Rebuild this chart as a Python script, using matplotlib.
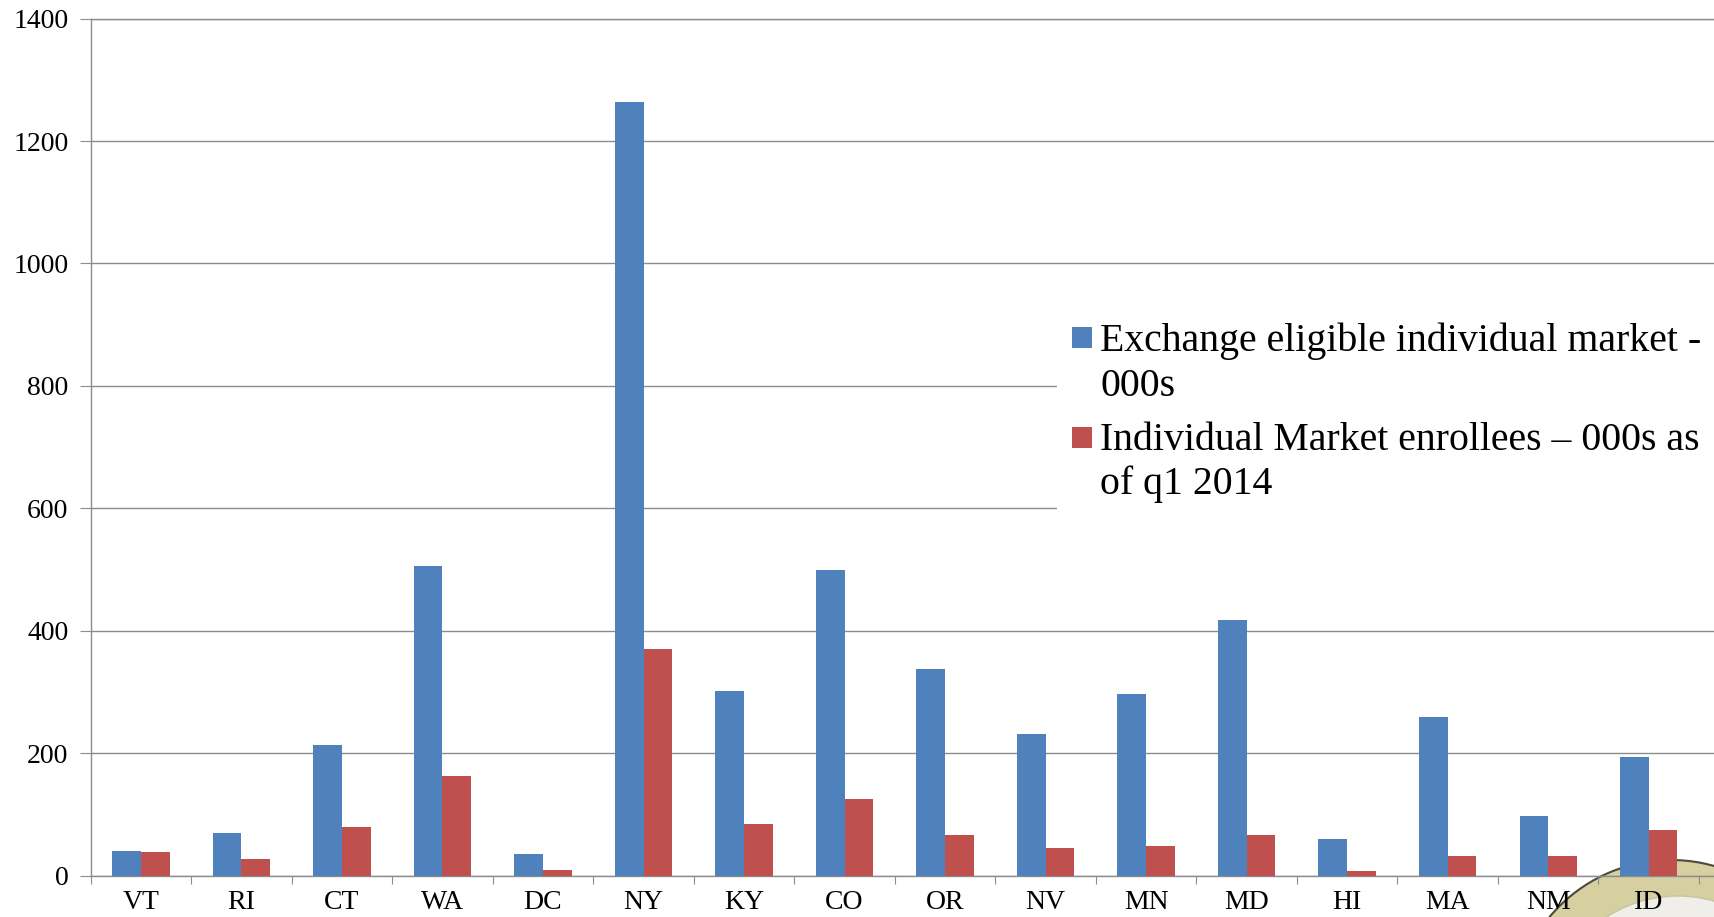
import matplotlib
matplotlib.use("Agg")
import matplotlib.pyplot as plt
import numpy as np
from matplotlib.patches import Rectangle, Ellipse

states = ['VT', 'RI', 'CT', 'WA', 'DC', 'NY', 'KY', 'CO', 'OR', 'NV', 'MN', 'MD', 'HI', 'MA', 'NM', 'ID']
eligible = [41, 70, 214, 505, 36, 1264, 302, 500, 337, 232, 296, 418, 59, 259, 98, 193]
enrollees = [38, 27, 79, 162, 9, 370, 84, 125, 66, 45, 48, 66, 7, 32, 32, 75]
legend_lines = [['Exchange eligible individual market -', '000s'],
                ['Individual Market enrollees \u2013 000s as', 'of q1 2014']]

blue = '#4F81BD'
red = '#C0504D'
grid_gray = '#8c8c8c'
W, H = 1714, 917


def fx(px):
    return px / W


def fy(py):
    return 1 - py / H


def circle(cx, cy, r, **kw):
    # circle given in pixels, placed in figure coords
    return Ellipse((fx(cx), fy(cy)), 2 * r / W, 2 * r / H, transform=plt.gcf().transFigure, **kw)


def main():
    plt.rcParams['font.family'] = ['Liberation Serif', 'DejaVu Serif']
    fig = plt.figure(figsize=(W / 100, H / 100), dpi=100)
    fig.patch.set_facecolor('white')

    # decorative badge peeking in at bottom right (slide background)
    fig.patches.append(circle(1671, 1018, 158, facecolor='#d6cfa0', edgecolor='#4a4a40', lw=1.5, zorder=0))
    fig.patches.append(circle(1678, 1028, 132, facecolor='#efeee8', edgecolor='#c9c4a0', lw=1, zorder=0))

    ax = fig.add_axes([fx(90.7), 1 - 875.6 / H, 1 - fx(90.7), (875.6 - 18.6) / H])
    ax.patch.set_alpha(0)
    ax.set_zorder(1)

    x = np.arange(len(states))
    w = 0.285
    ax.bar(x - w / 2, eligible, w, color=blue, zorder=3)
    ax.bar(x + w / 2, enrollees, w, color=red, zorder=3)

    ax.set_xlim(-0.5, 15.65)
    ax.set_ylim(0, 1400)
    ax.set_yticks(range(0, 1401, 200))
    ax.yaxis.grid(True, color=grid_gray, lw=1)
    ax.set_axisbelow(True)

    ax.set_xticks(np.arange(-0.5, 16, 1))
    ax.set_xticklabels([])
    ax.set_xticks(x, minor=True)
    ax.set_xticklabels(states, minor=True)
    ax.tick_params(axis='x', which='major', length=6, color=grid_gray)
    ax.tick_params(axis='x', which='minor', length=0, pad=10.5, labelsize=20)
    ax.tick_params(axis='y', length=8, color=grid_gray, pad=8, labelsize=20)

    ax.spines['right'].set_visible(False)
    for s in ['left', 'bottom', 'top']:
        ax.spines[s].set_color(grid_gray)
        ax.spines[s].set_linewidth(1)

    # legend, drawn the way the slide lays it out
    fig.patches.append(Rectangle((fx(1057), fy(512)), 1 - fx(1057), (512 - 312) / H,
                                 transform=fig.transFigure, facecolor='white',
                                 edgecolor='none', zorder=5))
    sq_tops = [327, 427]
    baselines = [[351, 396], [450, 494]]
    for color, top, lines, bl in zip([blue, red], sq_tops, legend_lines, baselines):
        fig.patches.append(Rectangle((fx(1072), fy(top + 21)), 20 / W, 21 / H,
                                     transform=fig.transFigure, facecolor=color,
                                     edgecolor='none', zorder=6))
        for line, b in zip(lines, bl):
            fig.text(fx(1100), fy(b), line, fontsize=28.6, va='baseline', ha='left', zorder=7)

    fig.savefig('out.png', dpi=100)


if __name__ == "__main__":
    main()
